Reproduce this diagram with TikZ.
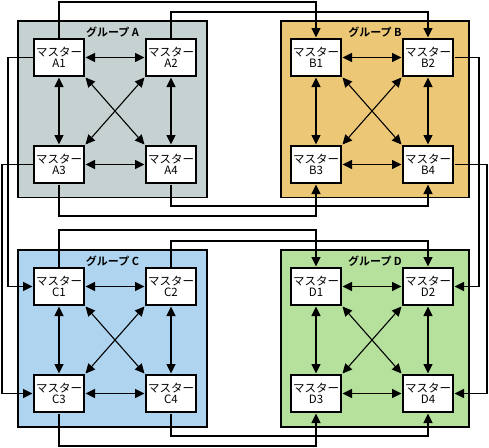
\documentclass[tikz,border=0pt]{standalone}
\usepackage{fontspec}
\setmainfont{Noto Sans CJK JP}
\newfontfamily\jpbold{Noto Sans CJK JP Bold}
\usetikzlibrary{arrows.meta}
\definecolor{grpA}{RGB}{198,210,210}
\definecolor{grpB}{RGB}{236,200,118}
\definecolor{grpC}{RGB}{174,212,240}
\definecolor{grpD}{RGB}{182,225,156}
\tikzset{
  grpbox/.style={draw=black, line width=1.5pt},
  master/.style={draw=black, fill=white, line width=1.2pt, minimum width=50pt, minimum height=37pt, inner sep=0pt, outer sep=1.5pt, align=center, font=\fontsize{11.5}{11.5}\selectfont},
  grptitle/.style={font=\jpbold\fontsize{11}{12}\selectfont, inner sep=0pt},
  link/.style={line width=1.1pt, {Triangle[length=9.5pt,width=9pt]}-{Triangle[length=9.5pt,width=9pt]}},
  wire/.style={line width=1.1pt, -{Triangle[length=9.5pt,width=9pt]}}
}
\begin{document}
\begin{tikzpicture}[x=1pt,y=-1pt]
\useasboundingbox (0,0) rectangle (489,447);
% group boxes
\foreach \g/\xa/\ya/\xb/\yb/\c in {A/18/21/207/197.5/grpA, B/281/21/469/197.5/grpB, C/18/250/207/427/grpC, D/281/250/469/427/grpD}{
  \draw[grpbox, fill=\c] (\xa,\ya) rectangle (\xb,\yb);
}
\node[grptitle] (tA) at (112.5,32.5) {グループ A};
\node[grptitle] (tB) at (375,32.5) {グループ B};
\node[grptitle] (tC) at (112.5,261.5) {グループ C};
\node[grptitle] (tD) at (375,261.5) {グループ D};
% nodes
\node[master] (A1) at (59,57.5) {マスター\\A1};
\node[master] (A2) at (171,57.5) {マスター\\A2};
\node[master] (A3) at (59,164.5) {マスター\\A3};
\node[master] (A4) at (171,164.5) {マスター\\A4};
\node[master] (B1) at (316,57.5) {マスター\\B1};
\node[master] (B2) at (428,57.5) {マスター\\B2};
\node[master] (B3) at (316,164.5) {マスター\\B3};
\node[master] (B4) at (428,164.5) {マスター\\B4};
\node[master] (C1) at (59,286.5) {マスター\\C1};
\node[master] (C2) at (171,286.5) {マスター\\C2};
\node[master] (C3) at (59,393.5) {マスター\\C3};
\node[master] (C4) at (171,393.5) {マスター\\C4};
\node[master] (D1) at (316,286.5) {マスター\\D1};
\node[master] (D2) at (428,286.5) {マスター\\D2};
\node[master] (D3) at (316,393.5) {マスター\\D3};
\node[master] (D4) at (428,393.5) {マスター\\D4};
% internal links
\foreach \g in {A,B,C,D}{
  \draw[link] (\g1) -- (\g2);
  \draw[link] (\g3) -- (\g4);
  \draw[link] (\g1) -- (\g3);
  \draw[link] (\g2) -- (\g4);
  \draw[link] (\g1.south east) -- (\g4.north west);
  \draw[link] (\g2.south west) -- (\g3.north east);
}
% external wires
\draw[wire] (A1.north) -- (A1.north |- 0,2) -| (B1.north);
\draw[wire] (A2.north) -- (A2.north |- 0,12) -| (B2.north);
\draw[wire] (A1.west) -- (A1.west -| 8,0) |- (C1.west);
\draw[wire] (A3.west) -- (A3.west -| 2,0) |- (C3.west);
\draw[wire] (A4.south) -- (A4.south |- 0,206) -| (B4.south);
\draw[wire] (A3.south) -- (A3.south |- 0,216) -| (B3.south);
\draw[wire] (B2.east) -- (B2.east -| 479,0) |- (D2.east);
\draw[wire] (B4.east) -- (B4.east -| 487,0) |- (D4.east);
\draw[wire] (C1.north) -- (C1.north |- 0,230) -| (D1.north);
\draw[wire] (C2.north) -- (C2.north |- 0,241) -| (D2.north);
\draw[wire] (C4.south) -- (C4.south |- 0,436) -| (D4.south);
\draw[wire] (C3.south) -- (C3.south |- 0,446) -| (D3.south);
\end{tikzpicture}
\end{document}
